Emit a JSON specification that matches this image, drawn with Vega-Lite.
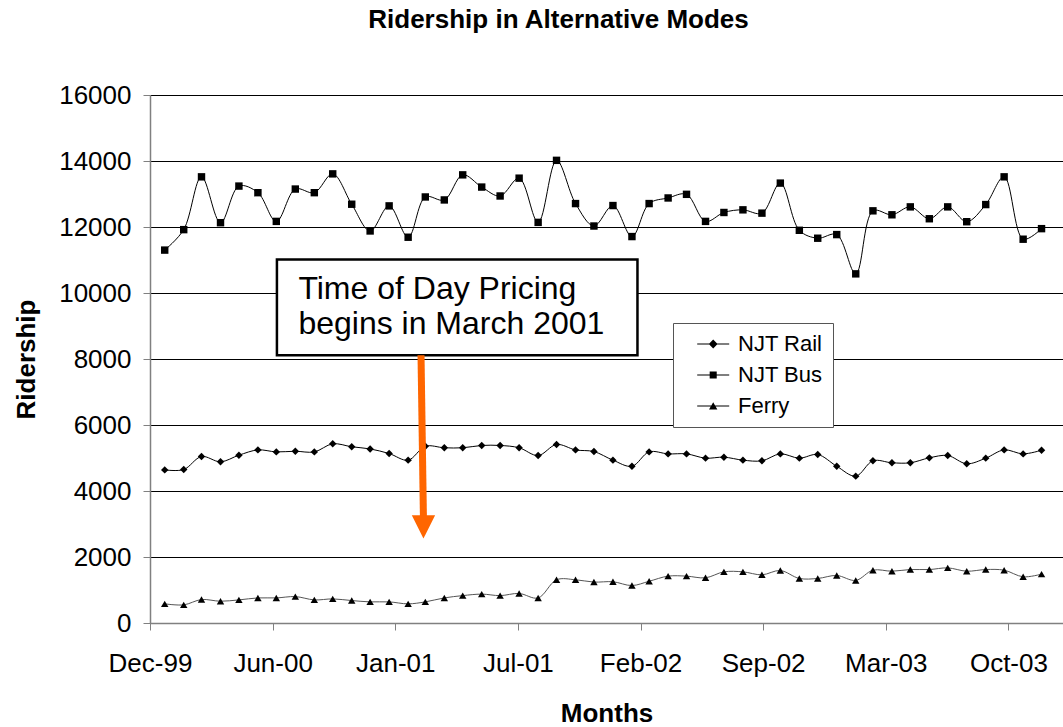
{
  "$schema": "https://vega.github.io/schema/vega-lite/v6.json",
  "autosize": "none",
  "width": 913,
  "height": 528,
  "padding": {"left": 150, "top": 95, "right": 0, "bottom": 104},
  "background": "white",
  "config": {
    "font": "Liberation Sans",
    "view": {"stroke": null},
    "axis": {"labelFont": "Liberation Sans", "titleFont": "Liberation Sans", "labelColor": "#000", "titleColor": "#000"}
  },
  "title": {
    "text": "Ridership in Alternative Modes",
    "fontSize": 26,
    "fontWeight": "bold",
    "font": "Liberation Sans",
    "anchor": "middle",
    "dx": -48,
    "offset": 49,
    "color": "#000"
  },
  "datasets": {
    "ridership": [
      {"month": "2000-01-01T00:00:00", "NJT Rail": 4640, "NJT Bus": 11300, "Ferry": 580},
      {"month": "2000-02-01T00:00:00", "NJT Rail": 4650, "NJT Bus": 11920, "Ferry": 550},
      {"month": "2000-03-01T00:00:00", "NJT Rail": 5045, "NJT Bus": 13520, "Ferry": 710},
      {"month": "2000-04-01T00:00:00", "NJT Rail": 4885, "NJT Bus": 12130, "Ferry": 660},
      {"month": "2000-05-01T00:00:00", "NJT Rail": 5085, "NJT Bus": 13240, "Ferry": 700},
      {"month": "2000-06-01T00:00:00", "NJT Rail": 5245, "NJT Bus": 13040, "Ferry": 760},
      {"month": "2000-07-01T00:00:00", "NJT Rail": 5185, "NJT Bus": 12170, "Ferry": 760},
      {"month": "2000-08-01T00:00:00", "NJT Rail": 5205, "NJT Bus": 13150, "Ferry": 800},
      {"month": "2000-09-01T00:00:00", "NJT Rail": 5185, "NJT Bus": 13040, "Ferry": 700},
      {"month": "2000-10-01T00:00:00", "NJT Rail": 5430, "NJT Bus": 13610, "Ferry": 730},
      {"month": "2000-11-01T00:00:00", "NJT Rail": 5340, "NJT Bus": 12690, "Ferry": 680},
      {"month": "2000-12-01T00:00:00", "NJT Rail": 5275, "NJT Bus": 11880, "Ferry": 640},
      {"month": "2001-01-01T00:00:00", "NJT Rail": 5135, "NJT Bus": 12640, "Ferry": 640},
      {"month": "2001-02-01T00:00:00", "NJT Rail": 4935, "NJT Bus": 11690, "Ferry": 580},
      {"month": "2001-03-01T00:00:00", "NJT Rail": 5355, "NJT Bus": 12910, "Ferry": 640},
      {"month": "2001-04-01T00:00:00", "NJT Rail": 5310, "NJT Bus": 12820, "Ferry": 760},
      {"month": "2001-05-01T00:00:00", "NJT Rail": 5310, "NJT Bus": 13580, "Ferry": 830},
      {"month": "2001-06-01T00:00:00", "NJT Rail": 5380, "NJT Bus": 13210, "Ferry": 875},
      {"month": "2001-07-01T00:00:00", "NJT Rail": 5380, "NJT Bus": 12940, "Ferry": 830},
      {"month": "2001-08-01T00:00:00", "NJT Rail": 5310, "NJT Bus": 13480, "Ferry": 895},
      {"month": "2001-09-01T00:00:00", "NJT Rail": 5075, "NJT Bus": 12140, "Ferry": 760},
      {"month": "2001-10-01T00:00:00", "NJT Rail": 5410, "NJT Bus": 14020, "Ferry": 1310},
      {"month": "2001-11-01T00:00:00", "NJT Rail": 5245, "NJT Bus": 12710, "Ferry": 1310},
      {"month": "2001-12-01T00:00:00", "NJT Rail": 5195, "NJT Bus": 12030, "Ferry": 1240},
      {"month": "2002-01-01T00:00:00", "NJT Rail": 4935, "NJT Bus": 12650, "Ferry": 1250},
      {"month": "2002-02-01T00:00:00", "NJT Rail": 4750, "NJT Bus": 11710, "Ferry": 1135},
      {"month": "2002-03-01T00:00:00", "NJT Rail": 5185, "NJT Bus": 12710, "Ferry": 1265},
      {"month": "2002-04-01T00:00:00", "NJT Rail": 5125, "NJT Bus": 12880, "Ferry": 1420},
      {"month": "2002-05-01T00:00:00", "NJT Rail": 5125, "NJT Bus": 12990, "Ferry": 1420},
      {"month": "2002-06-01T00:00:00", "NJT Rail": 4995, "NJT Bus": 12170, "Ferry": 1370},
      {"month": "2002-07-01T00:00:00", "NJT Rail": 5025, "NJT Bus": 12440, "Ferry": 1550},
      {"month": "2002-08-01T00:00:00", "NJT Rail": 4935, "NJT Bus": 12520, "Ferry": 1550},
      {"month": "2002-09-01T00:00:00", "NJT Rail": 4915, "NJT Bus": 12420, "Ferry": 1460},
      {"month": "2002-10-01T00:00:00", "NJT Rail": 5125, "NJT Bus": 13330, "Ferry": 1590},
      {"month": "2002-11-01T00:00:00", "NJT Rail": 4995, "NJT Bus": 11900, "Ferry": 1350},
      {"month": "2002-12-01T00:00:00", "NJT Rail": 5105, "NJT Bus": 11660, "Ferry": 1350},
      {"month": "2003-01-01T00:00:00", "NJT Rail": 4750, "NJT Bus": 11770, "Ferry": 1440},
      {"month": "2003-02-01T00:00:00", "NJT Rail": 4450, "NJT Bus": 10580, "Ferry": 1290},
      {"month": "2003-03-01T00:00:00", "NJT Rail": 4915, "NJT Bus": 12490, "Ferry": 1600},
      {"month": "2003-04-01T00:00:00", "NJT Rail": 4855, "NJT Bus": 12370, "Ferry": 1570},
      {"month": "2003-05-01T00:00:00", "NJT Rail": 4855, "NJT Bus": 12610, "Ferry": 1620},
      {"month": "2003-06-01T00:00:00", "NJT Rail": 5005, "NJT Bus": 12250, "Ferry": 1620},
      {"month": "2003-07-01T00:00:00", "NJT Rail": 5075, "NJT Bus": 12610, "Ferry": 1670},
      {"month": "2003-08-01T00:00:00", "NJT Rail": 4825, "NJT Bus": 12160, "Ferry": 1570},
      {"month": "2003-09-01T00:00:00", "NJT Rail": 4995, "NJT Bus": 12680, "Ferry": 1620},
      {"month": "2003-10-01T00:00:00", "NJT Rail": 5245, "NJT Bus": 13520, "Ferry": 1600},
      {"month": "2003-11-01T00:00:00", "NJT Rail": 5125, "NJT Bus": 11630, "Ferry": 1400},
      {"month": "2003-12-01T00:00:00", "NJT Rail": 5235, "NJT Bus": 11950, "Ferry": 1480}
    ],
    "box": [
      {"x": "2000-07-02T00:00:00", "x2": "2002-02-10T00:00:00", "y": 11014, "y2": 8114}
    ],
    "notes": [
      {"x": "2000-08-06T00:00:00", "y": 9823, "text": "Time of Day Pricing"},
      {"x": "2000-08-06T00:00:00", "y": 8760, "text": "begins in March 2001"}
    ],
    "arrow": [
      {"x": "2001-02-22T00:00:00", "x2": "2001-02-26T00:00:00", "y": 8114, "y2": 3100, "hy": 2912}
    ]
  },
  "resolve": {"scale": {"shape": "independent", "color": "independent"}, "legend": {"shape": "independent"}},
  "layer": [
    {
      "data": {"name": "ridership"},
      "transform": [{"fold": ["NJT Rail", "NJT Bus", "Ferry"], "as": ["series", "value"]}],
      "mark": {"type": "line", "interpolate": "catmull-rom", "strokeWidth": 1},
      "encoding": {
        "x": {
          "field": "month", "type": "temporal",
          "scale": {"domain": [{"year": 1999, "month": 12, "date": 8}, {"year": 2004, "month": 1, "date": 5}], "nice": false},
          "axis": {
            "title": "Months", "titleFontSize": 26, "titleFontWeight": "bold", "titlePadding": 24,
            "format": "%b-%y", "labelFontSize": 26, "labelPadding": 20, "labelFlush": false, "labelOverlap": false,
            "values": [
              {"year": 1999, "month": 12, "date": 8},
              {"year": 2000, "month": 6, "date": 25},
              {"year": 2001, "month": 1, "date": 11},
              {"year": 2001, "month": 7, "date": 30},
              {"year": 2002, "month": 2, "date": 15},
              {"year": 2002, "month": 9, "date": 3},
              {"year": 2003, "month": 3, "date": 22},
              {"year": 2003, "month": 10, "date": 8}
            ],
            "tickSize": 7, "tickColor": "#808080", "domainColor": "#808080", "domainWidth": 1.5, "grid": false
          }
        },
        "y": {
          "field": "value", "type": "quantitative",
          "scale": {"domain": [0, 16000], "nice": false},
          "axis": {
            "title": "Ridership", "titleFontSize": 26, "titleFontWeight": "bold", "titlePadding": 19,
            "values": [0, 2000, 4000, 6000, 8000, 10000, 12000, 14000, 16000], "format": "d",
            "labelFontSize": 26, "labelPadding": 12, "tickSize": 7, "tickColor": "#808080",
            "domainColor": "#808080", "domainWidth": 1.5,
            "grid": true, "gridColor": "#000", "gridOpacity": 1, "gridWidth": 1
          }
        },
        "color": {"field": "series", "type": "nominal", "scale": {"domain": ["NJT Rail", "NJT Bus", "Ferry"], "range": ["#000000", "#000000", "#555555"]}, "legend": null}
      }
    },
    {
      "data": {"name": "ridership"},
      "transform": [{"fold": ["NJT Rail", "NJT Bus", "Ferry"], "as": ["series", "value"]}],
      "mark": {"type": "point", "filled": true, "color": "#000", "opacity": 1, "size": 55},
      "encoding": {
        "x": {"field": "month", "type": "temporal", "scale": {"domain": [{"year": 1999, "month": 12, "date": 8}, {"year": 2004, "month": 1, "date": 5}], "nice": false}},
        "y": {"field": "value", "type": "quantitative", "scale": {"domain": [0, 16000], "nice": false}},
        "shape": {"field": "series", "type": "nominal", "scale": {"domain": ["NJT Rail", "NJT Bus", "Ferry"], "range": ["diamond", "square", "triangle-up"]}, "legend": null}
      }
    },
    {
      "data": {"name": "ridership"},
      "transform": [{"fold": ["NJT Rail", "NJT Bus", "Ferry"], "as": ["series", "value"]}, {"filter": "false"}],
      "mark": {"type": "point", "filled": true, "color": "#000", "opacity": 1},
      "encoding": {
        "x": {"field": "month", "type": "temporal", "scale": {"domain": [{"year": 1999, "month": 12, "date": 8}, {"year": 2004, "month": 1, "date": 5}], "nice": false}},
        "y": {"field": "value", "type": "quantitative", "scale": {"domain": [0, 16000], "nice": false}},
        "shape": {
          "field": "series", "type": "nominal",
          "scale": {
            "domain": ["NJT Rail", "NJT Bus", "Ferry"],
            "range": [
              "M0.4,-0.07L4.4,-0.07L4.4,0.07L0.4,0.07ZM2.4,-0.55L2.95,0L2.4,0.55L1.85,0Z",
              "M0.4,-0.07L4.4,-0.07L4.4,0.07L0.4,0.07ZM1.96,-0.44L2.84,-0.44L2.84,0.44L1.96,0.44Z",
              "M0.4,-0.07L4.4,-0.07L4.4,0.07L0.4,0.07ZM2.4,-0.48L2.92,0.44L1.88,0.44Z"
            ]
          },
          "legend": {
            "title": null, "orient": "none", "legendX": 523, "legendY": 228, "direction": "vertical",
            "fillColor": "white", "strokeColor": "#555", "padding": 10,
            "symbolSize": 256, "rowPadding": 9, "labelFontSize": 22, "labelOffset": 33,
            "labelFont": "Liberation Sans", "labelColor": "#000",
            "symbolFillColor": "#000", "symbolOpacity": 1
          }
        }
      }
    },
    {
      "data": {"name": "box"},
      "mark": {"type": "rect", "fill": "white", "stroke": "#000", "strokeWidth": 2.5},
      "encoding": {
        "x": {"field": "x", "type": "temporal", "scale": {"domain": [{"year": 1999, "month": 12, "date": 8}, {"year": 2004, "month": 1, "date": 5}], "nice": false}},
        "x2": {"field": "x2"},
        "y": {"field": "y", "type": "quantitative", "scale": {"domain": [0, 16000], "nice": false}},
        "y2": {"field": "y2"}
      }
    },
    {
      "data": {"name": "notes"},
      "mark": {"type": "text", "align": "left", "baseline": "alphabetic", "fontSize": 32, "font": "Liberation Sans", "color": "#000"},
      "encoding": {
        "x": {"field": "x", "type": "temporal", "scale": {"domain": [{"year": 1999, "month": 12, "date": 8}, {"year": 2004, "month": 1, "date": 5}], "nice": false}},
        "y": {"field": "y", "type": "quantitative", "scale": {"domain": [0, 16000], "nice": false}},
        "text": {"field": "text"}
      }
    },
    {
      "data": {"name": "arrow"},
      "mark": {"type": "rule", "color": "#FF6600", "strokeWidth": 7},
      "encoding": {
        "x": {"field": "x", "type": "temporal", "scale": {"domain": [{"year": 1999, "month": 12, "date": 8}, {"year": 2004, "month": 1, "date": 5}], "nice": false}},
        "x2": {"field": "x2"},
        "y": {"field": "y", "type": "quantitative", "scale": {"domain": [0, 16000], "nice": false}},
        "y2": {"field": "y2"}
      }
    },
    {
      "data": {"name": "arrow"},
      "mark": {"type": "point", "shape": "M-1,-1L1,-1L0,1Z", "filled": true, "color": "#FF6600", "opacity": 1, "size": 543},
      "encoding": {
        "x": {"field": "x2", "type": "temporal", "scale": {"domain": [{"year": 1999, "month": 12, "date": 8}, {"year": 2004, "month": 1, "date": 5}], "nice": false}},
        "y": {"field": "hy", "type": "quantitative", "scale": {"domain": [0, 16000], "nice": false}}
      }
    }
  ]
}
